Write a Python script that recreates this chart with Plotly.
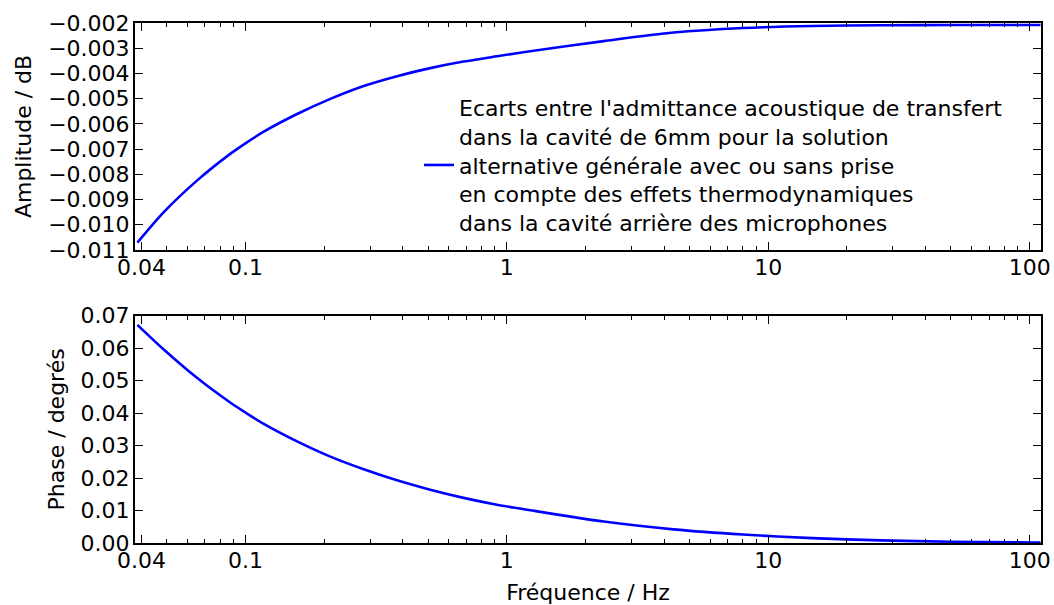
import plotly.graph_objects as go
import math

# ---- data ----
freq = [0.0386, 0.0487, 0.0654, 0.0877, 0.1, 0.1175, 0.1576, 0.2113, 0.2834, 0.380, 0.509,
        0.683, 0.916, 1.228, 2.35, 4.34, 8.0, 14.7, 27, 50, 110]
amplitude = [-0.01071, -0.00950, -0.00824, -0.00718, -0.00677, -0.00631, -0.00561, -0.00501,
             -0.00450, -0.00411, -0.00379, -0.00353, -0.00332, -0.00312, -0.00272, -0.00238,
             -0.00220, -0.00212, -0.00209, -0.00208, -0.00208]
phase = [0.0672, 0.0596, 0.0508, 0.0432, 0.0402, 0.0367, 0.0313, 0.0266, 0.0227, 0.0193,
         0.0164, 0.0139, 0.0118, 0.0101, 0.0066, 0.0042, 0.0026, 0.0015, 0.0008, 0.0004, 0.00015]

x_tickvals = [0.04, 0.1, 1, 10, 100]
x_ticktext = ["0.04", "0.1", "1", "10", "100"]
x_minor = [0.05, 0.06, 0.07, 0.08, 0.09,
           0.2, 0.3, 0.4, 0.5, 0.6, 0.7, 0.8, 0.9,
           2, 3, 4, 5, 6, 7, 8, 9,
           20, 30, 40, 50, 60, 70, 80, 90]
amp_tickvals = [-0.011, -0.010, -0.009, -0.008, -0.007, -0.006, -0.005, -0.004, -0.003, -0.002]
amp_ticktext = ["\u22120.011", "\u22120.010", "\u22120.009", "\u22120.008", "\u22120.007",
                "\u22120.006", "\u22120.005", "\u22120.004", "\u22120.003", "\u22120.002"]
phase_tickvals = [0.00, 0.01, 0.02, 0.03, 0.04, 0.05, 0.06, 0.07]
phase_ticktext = ["0.00", "0.01", "0.02", "0.03", "0.04", "0.05", "0.06", "0.07"]

legend_label = ("Ecarts entre l'admittance acoustique de transfert<br>"
                "dans la cavité de 6mm pour la solution<br>"
                "alternative générale avec ou sans prise<br>"
                "en compte des effets thermodynamiques<br>"
                "dans la cavité arrière des microphones")

FONT = "DejaVu Sans"
FS = 22
BLUE = "#0000ff"

fig = go.Figure()
fig.add_trace(go.Scatter(x=freq, y=amplitude, mode="lines", name=legend_label,
                         line=dict(color=BLUE, width=2.6, shape="spline", smoothing=0.8),
                         xaxis="x", yaxis="y", showlegend=True))
fig.add_trace(go.Scatter(x=freq, y=phase, mode="lines", name="phase",
                         line=dict(color=BLUE, width=2.6, shape="spline", smoothing=0.8),
                         xaxis="x2", yaxis="y2", showlegend=False))

xrange = [math.log10(0.0378), math.log10(110.5)]

common_x = dict(type="log", range=xrange, tickmode="array", tickvals=x_tickvals,
                ticktext=x_ticktext, ticks="inside", ticklen=8, tickwidth=1, tickcolor="black",
                showline=True, linecolor="black", linewidth=2, mirror="allticks",
                showgrid=False, zeroline=False, automargin=False,
                minor=dict(tickmode="array", tickvals=x_minor, ticks="inside", ticklen=4,
                           tickwidth=1, tickcolor="black", showgrid=False),
                tickfont=dict(family=FONT, size=FS, color="black"), ticklabelstandoff=-3)
common_y = dict(ticks="inside", ticklen=8, tickwidth=1, tickcolor="black",
                showline=True, linecolor="black", linewidth=2, mirror="allticks",
                showgrid=False, zeroline=False, tickmode="array", automargin=False,
                tickfont=dict(family=FONT, size=FS, color="black"), ticklabelstandoff=-1)

fig.update_layout(
    template="none",
    width=1054, height=605,
    margin=dict(l=135, r=13, t=23, b=62),
    paper_bgcolor="white", plot_bgcolor="white",
    font=dict(family=FONT, size=FS, color="black"),
    xaxis=dict(common_x, domain=[0, 1], anchor="y"),
    yaxis=dict(common_y, domain=[0.5635, 1], anchor="x", range=[-0.011, -0.002],
               tickvals=amp_tickvals, ticktext=amp_ticktext,
               title=dict(text="Amplitude / dB", standoff=10,
                          font=dict(family=FONT, size=FS, color="black"))),
    xaxis2=dict(common_x, domain=[0, 1], anchor="y2",
                title=dict(text="Fréquence / Hz", standoff=15,
                           font=dict(family=FONT, size=FS, color="black"))),
    yaxis2=dict(common_y, domain=[0, 0.437], anchor="x2", range=[0, 0.07],
                tickvals=phase_tickvals, ticktext=phase_ticktext,
                title=dict(text="Phase / degrés", standoff=10,
                           font=dict(family=FONT, size=FS, color="black"))),
    legend=dict(x=0.3135, y=0.727, xanchor="left", yanchor="middle",
                bgcolor="rgba(0,0,0,0)", borderwidth=0,
                font=dict(family=FONT, size=FS, color="black"), valign="middle"),
)

fig.write_html("out.html", config={"displayModeBar": False},
               post_script="document.body.style.margin='0';")
